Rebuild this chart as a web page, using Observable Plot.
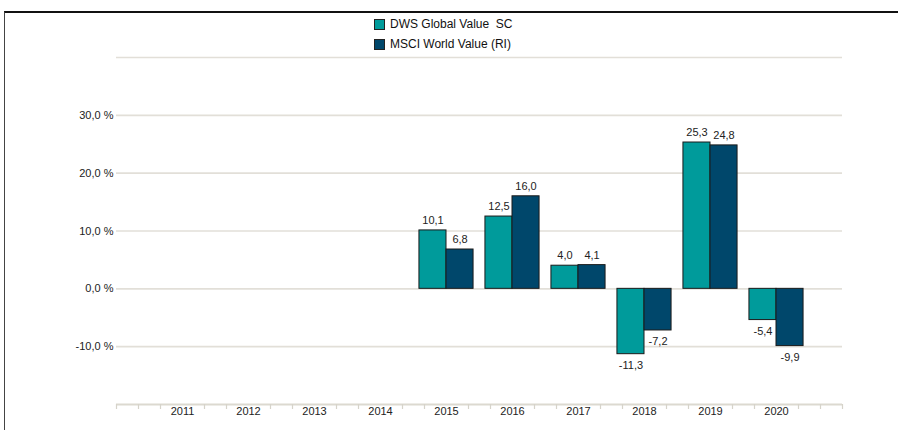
<!DOCTYPE html>
<html>
<head>
<meta charset="utf-8">
<script src="https://cdn.jsdelivr.net/npm/d3@7"></script>
<script src="https://cdn.jsdelivr.net/npm/@observablehq/plot@0.6"></script>
<style>
  html, body { margin: 0; padding: 0; background: #fff; }
  #wrap { position: relative; width: 898px; height: 430px; overflow: hidden; font-family: "Liberation Sans", Arial, sans-serif; }
  #frame { position: absolute; left: 4px; top: 11px; width: 900px; height: 430px; border-top: 2px solid #111; border-left: 1.5px solid #444; box-sizing: border-box; pointer-events: none; }
  #legend { position: absolute; left: 374px; top: 14px; font-size: 12px; color: #111; line-height: 20px; }
  #legend .item { display: flex; align-items: center; white-space: pre; }
  #legend .sw { width: 9px; height: 9px; border: 1px solid #222; margin-right: 5px; box-sizing: content-box; }
  #chart { position: absolute; left: 0; top: 0; }
</style>
</head>
<body>
<div id="wrap">
  <div id="chart"></div>
  <div id="legend"></div>
  <div id="frame"></div>
</div>
<script>
// ---- data ----
const years = [2011, 2012, 2013, 2014, 2015, 2016, 2017, 2018, 2019, 2020];
const seriesNames = ["DWS Global Value  SC", "MSCI World Value (RI)"];
const dwsValues  = [null, null, null, null, 10.1, 12.5, 4.0, -11.3, 25.3, -5.4];
const msciValues = [null, null, null, null, 6.8, 16.0, 4.1, -7.2, 24.8, -9.9];
const yTicks = [-10, 0, 10, 20, 30];
const gridValues = [-10, 0, 10, 20, 30, 40];
const colors = ["#009b9b", "#00476b"];

// ---- build table ----
const half = 0.41;
const rows = [];
years.forEach((yr, i) => {
  [dwsValues[i], msciValues[i]].forEach((v, s) => {
    if (v == null) return;
    rows.push({
      year: yr, series: seriesNames[s], value: v,
      x1: s === 0 ? yr - half : yr,
      x2: s === 0 ? yr : yr + half,
      xc: s === 0 ? yr - half / 2 : yr + half / 2
    });
  });
});

const fmt = v => d3.format(".1f")(v).replace(".", ",").replace("\u2212", "-");
const minorTicks = d3.range(0, 34).map(k => 2010 + k / 3)
  .filter(v => !(years.includes(Math.round(v)) && Math.abs(v - Math.round(v)) < 1e-6));

const chart = Plot.plot({
  width: 898,
  height: 430,
  marginLeft: 116,
  marginRight: 56,
  marginTop: 57,
  marginBottom: 26,
  style: { fontFamily: "Liberation Sans, Arial, sans-serif", fontSize: "11px", color: "#222", background: "transparent" },
  x: { type: "linear", domain: [2010, 2021], label: null },
  y: { domain: [-20, 40], label: null },
  color: { domain: seriesNames, range: colors },
  marks: [
    Plot.ruleY(gridValues, { stroke: "#e2dfd8", strokeWidth: 1.6 }),
    Plot.ruleY([-20], { stroke: "#dcd9d0", strokeWidth: 2.2 }),
    Plot.axisX(minorTicks, { tickSize: 5, tickFormat: () => "", stroke: "#d6d3ca", strokeWidth: 1.2, label: null }),
    Plot.axisX(years, { tickSize: 0, tickPadding: 3, tickFormat: d => String(d), fill: "#222", fontSize: 11, label: null }),
    Plot.axisY(yTicks, { tickSize: 0, tickPadding: 3, tickFormat: d => fmt(d) + " %", fill: "#222", fontSize: 11, label: null }),
    Plot.rectY(rows, { x1: "x1", x2: "x2", y1: 0, y2: "value", fill: "series", stroke: "#1a1a1a", strokeWidth: 1 }),
    Plot.text(rows.filter(d => d.value >= 0), { x: "xc", y: "value", text: d => fmt(d.value), dy: -10, fontSize: 11, fill: "#222" }),
    Plot.text(rows.filter(d => d.value < 0), { x: "xc", y: "value", text: d => fmt(d.value), dy: 11, fontSize: 11, fill: "#222" })
  ]
});
document.getElementById("chart").appendChild(chart);

// ---- legend ----
const legend = document.getElementById("legend");
seriesNames.forEach((name, i) => {
  const item = document.createElement("div");
  item.className = "item";
  const sw = document.createElement("span");
  sw.className = "sw";
  sw.style.background = colors[i];
  const label = document.createElement("span");
  label.textContent = name;
  item.appendChild(sw);
  item.appendChild(label);
  legend.appendChild(item);
});
</script>
</body>
</html>
